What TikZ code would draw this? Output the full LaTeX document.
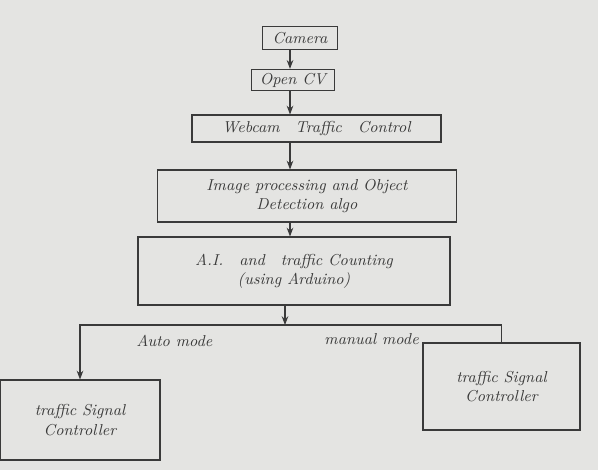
\documentclass[tikz,border=0pt]{standalone}
\usepackage{tikz}
\usetikzlibrary{arrows.meta, positioning, calc}
\definecolor{paper}{HTML}{E4E4E2}
\definecolor{pencil}{HTML}{3A3A3A}

\begin{document}
\begin{tikzpicture}[
  every node/.style={font=\small},
  stagebox/.style={rectangle, draw=pencil, semithick, minimum width=#1, inner sep=2pt, align=center, text=pencil},
  flow/.style={-{Stealth[length=5pt]}, pencil, semithick},
  wire/.style={pencil, semithick},
  modelabel/.style={font=\small\itshape, text=pencil},
]

% paper
\fill[paper] (0,0) rectangle (11.96,-9.4);
\useasboundingbox (0,0) rectangle (11.96,-9.4);

\coordinate (spine) at (5.8,0);
\coordinate (split) at (5.7,-6.5);

\node[stagebox=1.5cm, minimum height=0.46cm] (camera) at (6.0,-0.76) {\itshape Camera};
\node[stagebox=1.66cm, minimum height=0.42cm] (opencv) at (5.86,-1.6) {\itshape Open CV};
\node[stagebox=4.98cm, minimum height=0.54cm] (webcam) at (6.33,-2.57) {\itshape Webcam\quad Traffic\quad Control};
\node[stagebox=5.98cm, minimum height=1.04cm] (imgproc) at (6.14,-3.92) {\itshape Image processing and Object\\ \itshape Detection algo};
\node[stagebox=6.24cm, minimum height=1.36cm] (aicount) at (5.88,-5.42) {\itshape A.I.\quad and\quad traffic Counting\\ \itshape (using Arduino)};
\node[stagebox=3.2cm, minimum height=1.6cm] (autoctrl) at (1.6,-8.4) {\itshape traffic Signal\\ \itshape Controller};
\node[stagebox=3.14cm, minimum height=1.74cm] (manctrl) at (10.03,-7.73) {\itshape traffic Signal\\ \itshape Controller};

% main chain
\draw[flow] (camera.south -| spine) -- (opencv.north -| spine);
\draw[flow] (opencv.south -| spine) -- (webcam.north -| spine);
\draw[flow] (webcam.south -| spine) -- (imgproc.north -| spine);
\draw[flow] (imgproc.south -| spine) -- (aicount.north -| spine);
\draw[flow] (aicount.south -| split) -- (split);

% mode branches
\draw[flow] (split) -| node[modelabel, pos=0.27, below=2pt] {Auto mode} (autoctrl.north);
\draw[wire] (split) -| node[modelabel, pos=0.2, below=1pt] {manual mode} (manctrl.north);

\end{tikzpicture}
\end{document}
